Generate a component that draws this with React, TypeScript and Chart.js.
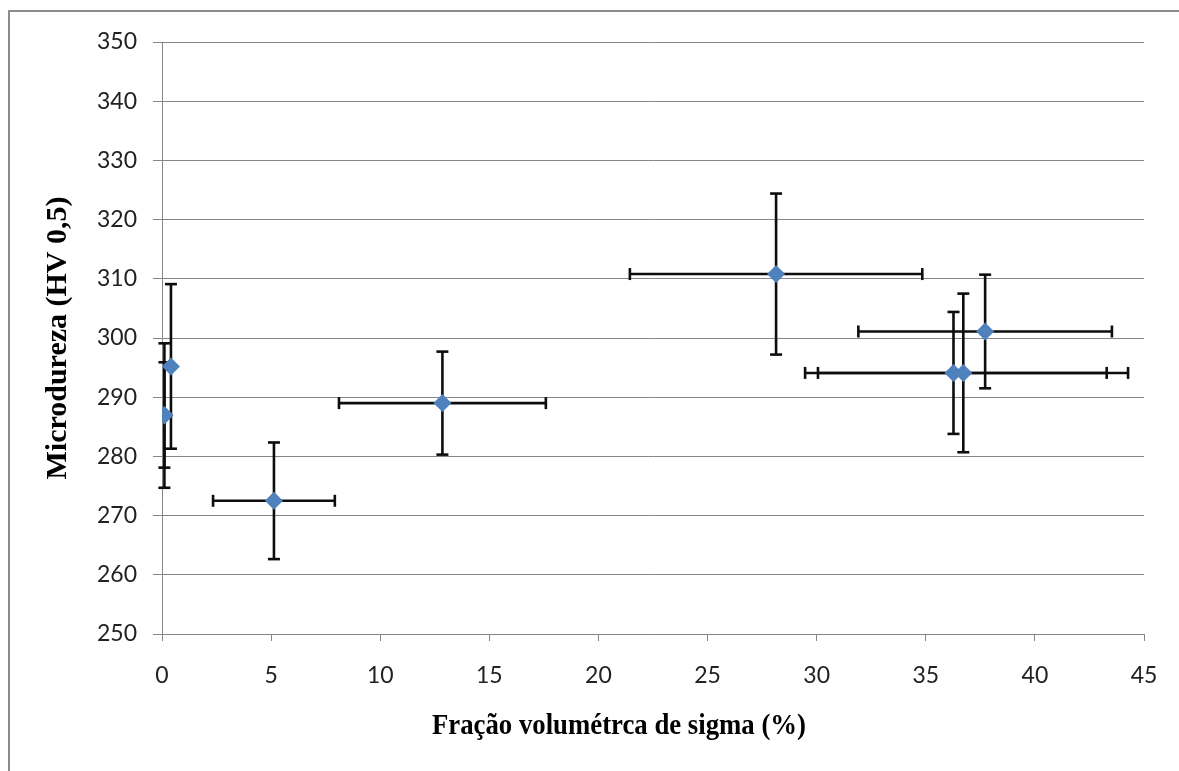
import React, { useEffect, useRef } from "react";
import { Chart, registerables } from "chart.js";

Chart.register(...registerables);

// Data
const xValues = [0.11, 0.11, 0.41, 5.13, 12.85, 28.14, 36.27, 36.72, 37.72];
const yValues = [286.9, 287.0, 295.2, 272.5, 289.0, 310.8, 294.1, 294.1, 301.1];
const yErr = [12.2, 8.9, 13.9, 9.85, 8.7, 13.6, 10.3, 13.4, 9.6];
const xErrMinus = [0, 0, 0, 2.79, 4.74, 6.7, 6.8, 6.66, 5.81];
const xErrPlus = [0, 0, 0, 2.79, 4.74, 6.7, 8.0, 6.57, 5.81];

const xTitle = "Fração volumétrca de sigma (%)";
const yTitle = "Microdureza (HV 0,5)";

const CANVAS_W = 1169;
const CANVAS_H = 759;

const errorBarPlugin = {
  id: "errorBars",
  beforeDatasetsDraw(chart: any) {
    const { ctx } = chart;
    const xs = chart.scales.x;
    const ys = chart.scales.y;
    const cap = 6;
    ctx.save();
    ctx.strokeStyle = "#0d0d0d";
    ctx.lineWidth = 2.6;
    ctx.lineCap = "butt";
    const line = (x1: number, y1: number, x2: number, y2: number) => {
      ctx.beginPath();
      ctx.moveTo(x1, y1);
      ctx.lineTo(x2, y2);
      ctx.stroke();
    };
    for (let i = 0; i < xValues.length; i++) {
      const px = xs.getPixelForValue(xValues[i]);
      const py = ys.getPixelForValue(yValues[i]);
      if (xErrMinus[i] > 0 || xErrPlus[i] > 0) {
        const l = xs.getPixelForValue(xValues[i] - xErrMinus[i]);
        const r = xs.getPixelForValue(xValues[i] + xErrPlus[i]);
        line(l, py, r, py);
        line(l, py - cap, l, py + cap);
        line(r, py - cap, r, py + cap);
      }
      if (yErr[i] > 0) {
        const t = ys.getPixelForValue(yValues[i] + yErr[i]);
        const b = ys.getPixelForValue(yValues[i] - yErr[i]);
        line(px, t, px, b);
        line(px - cap, t, px + cap, t);
        line(px - cap, b, px + cap, b);
      }
    }
    ctx.restore();
  },
};

const titlePlugin = {
  id: "axisTitles",
  afterDraw(chart: any) {
    const { ctx } = chart;
    ctx.save();
    ctx.fillStyle = "#000";
    ctx.font = "bold 30px 'Liberation Serif', 'Times New Roman', serif";
    ctx.textBaseline = "alphabetic";
    ctx.textAlign = "center";
    const w = ctx.measureText(xTitle).width;
    const maxW = 374;
    ctx.fillText(xTitle, 609, 722, w > maxW ? maxW : undefined);
    ctx.translate(56, 326);
    ctx.rotate(-Math.PI / 2);
    const wy = ctx.measureText(yTitle).width;
    const maxWy = 302;
    ctx.fillText(yTitle, 0, 0, wy > maxWy ? maxWy : undefined);
    ctx.restore();
  },
};

export default function App() {
  const ref = useRef<HTMLCanvasElement | null>(null);

  useEffect(() => {
    document.documentElement.style.overflow = "hidden";
    document.body.style.overflow = "hidden";
    if (!ref.current) return;
    const gridColor = "#868686";
    const tickFont = { family: "Lato, 'Open Sans', sans-serif", size: 23 };
    const chart = new Chart(ref.current, {
      type: "scatter",
      data: {
        datasets: [
          {
            data: xValues.map((v, i) => ({ x: v, y: yValues[i] })),
            pointStyle: "rectRot",
            pointRadius: 9,
            pointHoverRadius: 9,
            backgroundColor: "#4F81BD",
            borderColor: "#4F81BD",
            borderWidth: 0,
            showLine: false,
          },
        ],
      },
      options: {
        animation: false,
        responsive: false,
        devicePixelRatio: 1,
        layout: { padding: { left: 0, right: CANVAS_W - 1134, top: 30, bottom: 0 } },
        plugins: {
          legend: { display: false },
          tooltip: { enabled: false },
          title: { display: false },
        },
        scales: {
          x: {
            type: "linear",
            min: 0,
            max: 45,
            afterFit: (s: any) => {
              s.height = CANVAS_H - 622;
            },
            ticks: {
              stepSize: 5,
              color: "#222",
              font: tickFont,
              padding: 21,
              maxRotation: 0,
            },
            grid: {
              drawOnChartArea: false,
              drawTicks: true,
              tickLength: 7,
              color: gridColor,
            },
            border: { display: true, color: gridColor, width: 1 },
          },
          y: {
            type: "linear",
            min: 250,
            max: 350,
            afterFit: (s: any) => {
              s.width = 152;
            },
            ticks: {
              stepSize: 10,
              color: "#222",
              font: tickFont,
              padding: 16,
            },
            grid: {
              drawOnChartArea: true,
              drawTicks: true,
              tickLength: 9,
              color: gridColor,
            },
            border: { display: true, color: gridColor, width: 1 },
          },
        },
      },
      plugins: [errorBarPlugin, titlePlugin],
    });
    return () => chart.destroy();
  }, []);

  return (
    <div
      style={{
        position: "fixed",
        left: 8,
        top: 10,
        width: 1220,
        height: 820,
        borderLeft: "2px solid #8c8c8c",
        borderTop: "2px solid #8c8c8c",
        background: "#fff",
      }}
    >
      <canvas
        ref={ref}
        width={CANVAS_W}
        height={CANVAS_H}
        style={{ position: "absolute", left: 0, top: 0, width: CANVAS_W, height: CANVAS_H }}
      />
    </div>
  );
}
